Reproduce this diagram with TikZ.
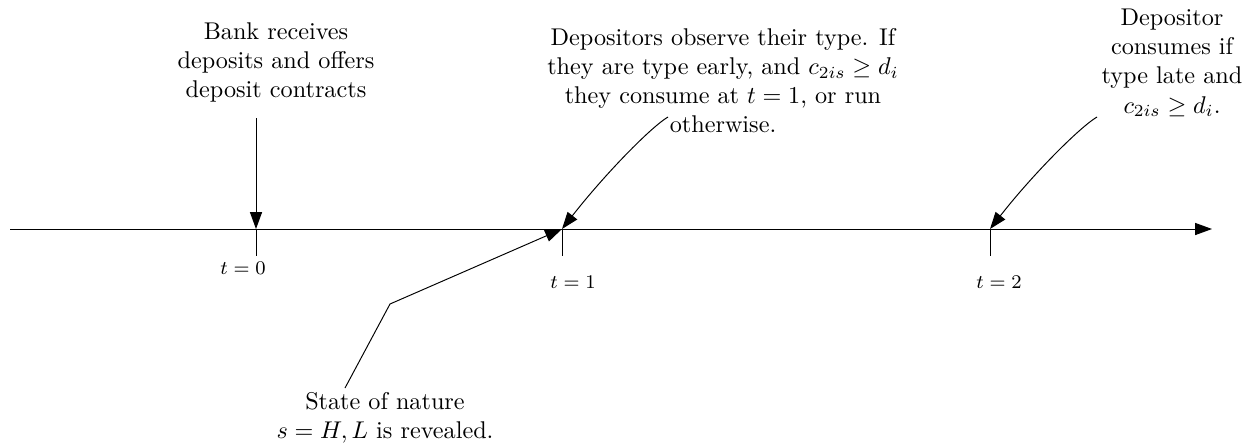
\documentclass[tikz,border=0pt]{standalone}
\usepackage{amsmath,amssymb}
\usetikzlibrary{arrows.meta,positioning,calc}

\begin{document}
\begin{tikzpicture}[
  x=0.413pt, y=0.413pt,
  >={Triangle[length=7pt,width=5pt]},
  event/.style={align=center, inner sep=0pt},
  tlabel/.style={font=\footnotesize, inner sep=0pt},
]
\useasboundingbox (0,0) rectangle (1260,445);

% Time axis
\coordinate (start) at (10,216);
\coordinate (stop) at (1212,216);
\draw[->] (start) -- (stop);
\foreach \x/\n in {256/0,562/1,990/2}{
  \coordinate (t\n) at (\x,216);
  \draw (t\n) -- ++(0,-27);
}
\node[tlabel] (lbl0) at (243,177) {$t=0$};
\node[tlabel] (lbl1) at (573,163) {$t=1$};
\node[tlabel] (lbl2) at (999,163) {$t=2$};

% Events
\node[event] (bank) at (276,383) {Bank receives\\deposits and offers\\deposit contracts};
\node[event] (depo) at (723,364) {Depositors observe their type. If\\they are type early, and $c_{2is}\geq d_i$\\they consume at $t=1$, or run\\otherwise.};
\node[event] (late) at (1172,382) {Depositor\\consumes if\\type late and\\$c_{2is}\geq d_i$.};
\node[event] (nature) at (385,27) {State of nature\\$s=H,L$ is revealed.};

% Pointers
\coordinate (bankend) at (256,327);
\coordinate (depoend) at (668,328);
\coordinate (lateend) at (1097,328);
\coordinate (natend) at (345,57);
\coordinate (natbend) at (390,141);
\draw[->] (bankend) -- (t0);
\draw[->] (depoend) .. controls +(-17,-10) and +(43,55) .. (t1);
\draw[->] (lateend) .. controls +(-17,-10) and +(43,55) .. (t2);
\draw[->] (natend) -- (natbend) -- (t1);
\end{tikzpicture}
\end{document}
